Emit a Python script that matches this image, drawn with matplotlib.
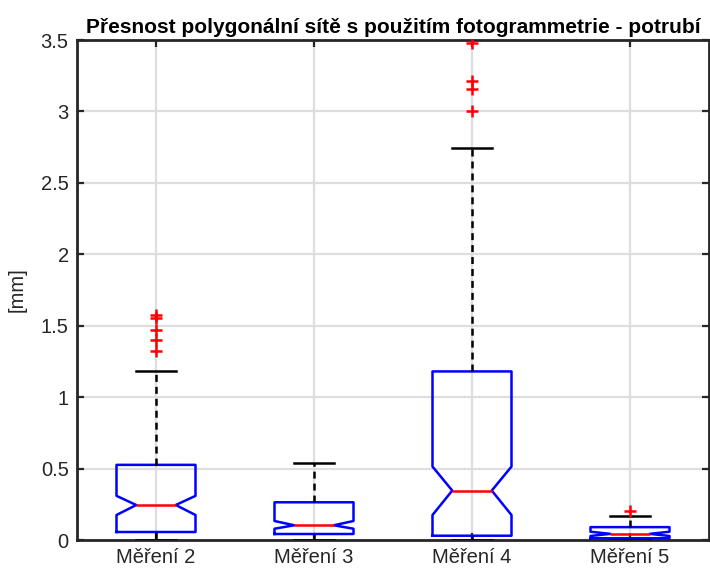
import matplotlib
matplotlib.use("Agg")
import matplotlib.pyplot as plt
from matplotlib.ticker import FuncFormatter

plt.rcParams['font.family'] = ['Liberation Sans', 'DejaVu Sans']
plt.rcParams['lines.scale_dashes'] = False

# values (mm)
labels = ["Měření 2", "Měření 3", "Měření 4", "Měření 5"]
q1 = [0.056, 0.042, 0.030, 0.012]
med = [0.245, 0.103, 0.346, 0.043]
q3 = [0.526, 0.264, 1.180, 0.090]
notch_lo = [0.175, 0.079, 0.175, 0.028]
notch_hi = [0.309, 0.133, 0.514, 0.058]
whis_lo = [0.0, 0.0, 0.0, 0.0]
whis_hi = [1.18, 0.538, 2.747, 0.168]
outliers = [
    [1.578, 1.557, 1.473, 1.402, 1.320],
    [],
    [3.00, 3.16, 3.21, 3.48],
    [0.20],
]

stats = []
for i in range(len(labels)):
    stats.append(dict(label=labels[i], q1=q1[i], med=med[i], q3=q3[i],
                      cilo=notch_lo[i], cihi=notch_hi[i],
                      whislo=whis_lo[i], whishi=whis_hi[i],
                      fliers=outliers[i]))

fig = plt.figure(figsize=(7.1, 5.73), dpi=100)
ax = fig.add_axes([77 / 710, 1 - 540 / 573, 632 / 710, 500 / 573])

lw = 1.8
ax.bxp(stats, positions=[1, 2, 3, 4], widths=0.5, shownotches=True,
       boxprops=dict(color='blue', linewidth=lw),
       medianprops=dict(color='red', linewidth=lw),
       whiskerprops=dict(color='black', linewidth=lw, linestyle=(0, (5, 3.6))),
       capprops=dict(color='black', linewidth=lw),
       flierprops=dict(marker='+', markeredgecolor='red', markersize=9,
                       markeredgewidth=1.8, linestyle='none'),
       zorder=3)

ax.set_xlim(0.5, 4.5)
ax.set_ylim(0, 3.5)
ax.set_yticks([0, 0.5, 1, 1.5, 2, 2.5, 3, 3.5])
ax.yaxis.set_major_formatter(FuncFormatter(lambda v, p: "%g" % v))

dark = '#262626'
ax.grid(True, color='#dedede', linewidth=1.6)
ax.set_axisbelow(True)
for s in ax.spines.values():
    s.set_color(dark)
    s.set_linewidth(2)
ax.tick_params(direction='in', length=5, width=1.6, color=dark,
               labelcolor=dark, labelsize=14.5, top=True, right=True, pad=6)

ax.set_ylabel("[mm]", fontsize=14.5, color=dark, labelpad=10)
ax.set_title("Přesnost polygonální sítě s použitím fotogrammetrie - potrubí",
             fontsize=15, fontweight='bold', color='black', pad=5)

fig.savefig("out.png", dpi=100)
